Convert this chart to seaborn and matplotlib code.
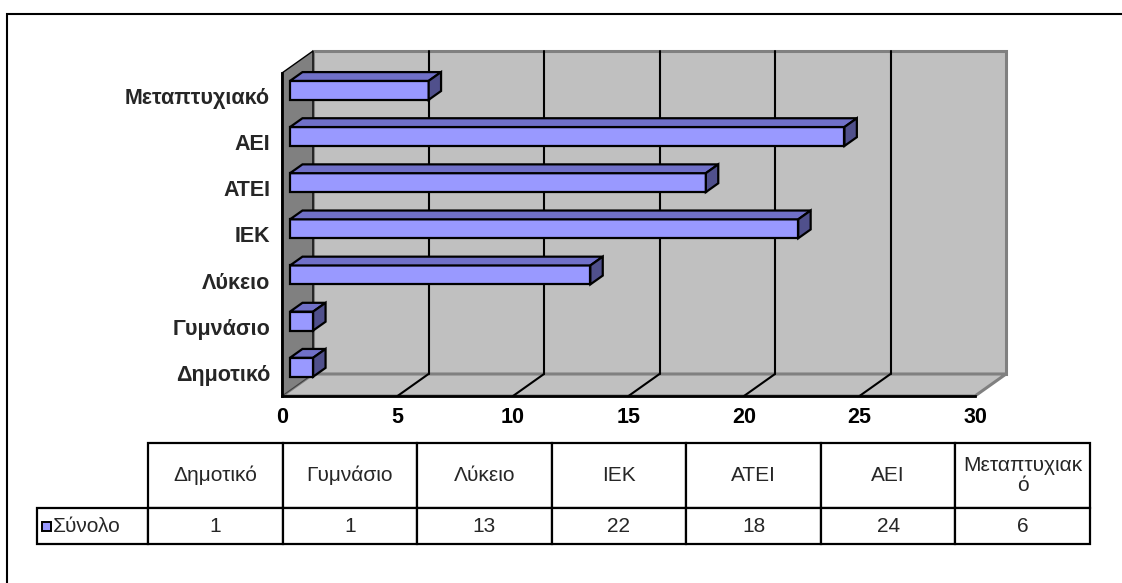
import numpy as np
import pandas as pd
import matplotlib
matplotlib.use("Agg")
import matplotlib.pyplot as plt
from matplotlib.patches import Polygon, Rectangle
from matplotlib.table import Table
import seaborn as sns

# ---------------------- data ----------------------
categories = ["Δημοτικό", "Γυμνάσιο", "Λύκειο", "ΙΕΚ", "ΑΤΕΙ", "ΑΕΙ", "Μεταπτυχιακό"]
values = [1, 1, 13, 22, 18, 24, 6]
series_name = "Σύνολο"
x_ticks = [0, 5, 10, 15, 20, 25, 30]

sns.set_style("white")
plt.rcParams["font.family"] = ["Liberation Sans", "DejaVu Sans"]

W, H = 1122, 583
fig = plt.figure(figsize=(W / 100, H / 100), dpi=100)
fig.patch.set_facecolor("white")

# front plane of the pseudo-3D box
ax = fig.add_axes([282 / W, 1 - 396 / H, (975 - 282) / W, (396 - 73) / H])
ax.set_facecolor("none")

df = pd.DataFrame({"cat": categories, "val": values})
sns.barplot(data=df, x="val", y="cat", order=categories[::-1], orient="h",
            color="#9999FF", saturation=1, width=0.41,
            edgecolor="black", linewidth=1.6, ax=ax, zorder=2)
bars = list(ax.patches)

ax.set_xlim(0, 30)
ax.set_ylim(6.5, -0.5)

# depth of the box in data units (31 px right, 22 px up)
DX = 31 / (693 / 30)
DY = 22 / (323 / 7)
d0, d1 = 0.26, 0.66          # bar front / back inside the depth
bd = d1 - d0

# walls and floor
ax.add_patch(Rectangle((DX, -0.5 - DY), 30, 7, fc="#C0C0C0", ec="#808080",
                       lw=2.2, zorder=0.2, clip_on=False))
ax.add_patch(Polygon([(0, 6.5), (0, -0.5), (DX, -0.5 - DY), (DX, 6.5 - DY)],
                     closed=True, fc="#808080", ec="black", lw=1.0,
                     zorder=0.3, clip_on=False))
ax.add_patch(Polygon([(0, 6.5), (30, 6.5), (30 + DX, 6.5 - DY), (DX, 6.5 - DY)],
                     closed=True, fc="#C0C0C0", ec="#808080", lw=2.2,
                     zorder=0.4, clip_on=False))

# gridlines on back wall and floor
for t in x_ticks[1:-1]:
    ax.plot([t + DX, t + DX], [6.5 - DY, -0.5 - DY], color="black", lw=1.5,
            zorder=0.5, clip_on=False)
    ax.plot([t, t + DX], [6.5, 6.5 - DY], color="black", lw=1.5,
            zorder=0.5, clip_on=False)
ax.plot([0, DX], [6.5, 6.5 - DY], color="#404040", lw=0.8, zorder=0.5, clip_on=False)

# 3D bars: shift front face into the depth, add top and side faces
for p in bars:
    p.set_x(p.get_x() + d0 * DX)
    p.set_y(p.get_y() - d0 * DY)
    x0 = p.get_x()
    x1 = x0 + p.get_width()
    yt = p.get_y()
    yb = yt + p.get_height()
    top = [(x0, yt), (x1, yt), (x1 + bd * DX, yt - bd * DY), (x0 + bd * DX, yt - bd * DY)]
    side = [(x1, yt), (x1, yb), (x1 + bd * DX, yb - bd * DY), (x1 + bd * DX, yt - bd * DY)]
    ax.add_patch(Polygon(top, closed=True, fc="#7070C8", ec="black", lw=1.6,
                         zorder=2, clip_on=False))
    ax.add_patch(Polygon(side, closed=True, fc="#50508C", ec="black", lw=1.6,
                         zorder=2, clip_on=False))

# axes
for s in ["top", "right"]:
    ax.spines[s].set_visible(False)
for s in ["left", "bottom"]:
    ax.spines[s].set_color("black")
    ax.spines[s].set_linewidth(2)
    ax.spines[s].set_zorder(3)

ax.set_xticks(x_ticks)
ax.set_yticks(np.arange(-0.5, 7, 1), minor=True)
ax.tick_params(axis="x", length=5, width=1.5, pad=3, labelsize=15.5, colors="black")
ax.tick_params(axis="y", which="major", length=0, pad=8.6, labelsize=15.5)
ax.tick_params(axis="y", which="minor", length=6, width=1.5, color="black")
plt.setp(ax.get_xticklabels() + ax.get_yticklabels(), fontweight="bold")
ax.set_xlabel("")
ax.set_ylabel("")

# ---------------------- data table ----------------------
tab_ax = fig.add_axes([0, 0, 1, 1])
tab_ax.axis("off")

header_labels = [c if len(c) < 12 else c[:-1] + "\n" + c[-1] for c in categories]
col_w = [111] + [(1090 - 148) / 7] * len(categories)
row_h = [65, 36]

tab = Table(tab_ax, bbox=[37 / W, 1 - 544 / H, (1090 - 37) / W, 101 / H])
tab.add_cell(0, 0, col_w[0], row_h[0], text="")
tab[0, 0].visible_edges = ""
for j, lab in enumerate(header_labels, start=1):
    tab.add_cell(0, j, col_w[j], row_h[0], text=lab, loc="center")
tab.add_cell(1, 0, col_w[0], row_h[1], text=series_name, loc="left")
tab[1, 0].PAD = 0.144
for j, v in enumerate(values, start=1):
    tab.add_cell(1, j, col_w[j], row_h[1], text=str(v), loc="center")
for cell in tab.get_celld().values():
    cell.set_linewidth(1.6)
    cell.set_edgecolor("black")
tab.auto_set_font_size(False)
tab.set_fontsize(15)
tab_ax.add_table(tab)
for t in tab[0, len(categories)].get_text(), :
    t.set_linespacing(1.05)

# legend key inside the table
tab_ax.add_patch(Rectangle((42 / W, 1 - 531 / H), 9 / W, 9 / H, fc="#9999FF",
                           ec="black", lw=1.4, zorder=5, transform=tab_ax.transAxes))

# chart area border
tab_ax.add_patch(Rectangle((7 / W, -0.5), 2, 1 - 14 / H + 0.5, fill=False,
                           ec="black", lw=1.5, transform=tab_ax.transAxes,
                           clip_on=False))

fig.savefig("out.png", dpi=100)
